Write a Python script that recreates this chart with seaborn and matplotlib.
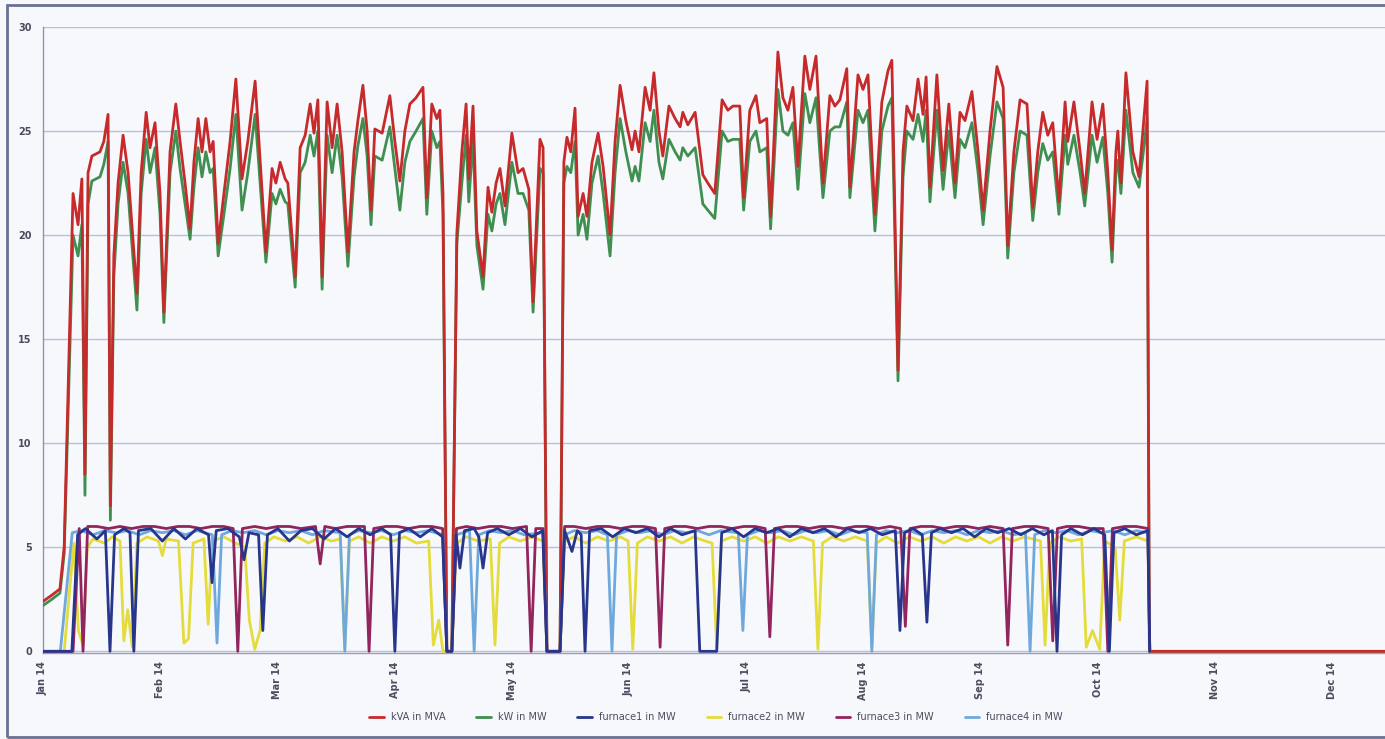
import matplotlib
matplotlib.use("Agg")
import matplotlib.pyplot as plt
import seaborn as sns
import pandas as pd
from matplotlib.patches import Rectangle

# ---------------- data ----------------
month_labels = ["Jan 14", "Feb 14", "Mar 14", "Apr 14", "May 14", "Jun 14",
                "Jul 14", "Aug 14", "Sep 14", "Oct 14", "Nov 14", "Dec 14"]
month_step = 30.44  # days between month ticks (evenly spaced in the chart)
x_end = 348.6

series_names = ["kVA in MVA", "kW in MW", "furnace1 in MW",
                "furnace2 in MW", "furnace3 in MW", "furnace4 in MW"]
series_colors = ["#c62a2a", "#3f8f50", "#27358c", "#e4dc3a", "#92245e", "#6fa9dc"]

kva_days = [0.0, 2.3, 4.4, 5.5, 7.8, 9.1, 10.1, 10.9, 11.7, 12.7, 14.8, 15.8, 16.9, 17.5,
            18.4, 19.5, 20.8, 22.1, 24.4, 25.5, 26.8, 27.8, 29.1, 30.4, 31.4, 33.0, 34.5,
            35.6, 36.9, 38.2, 39.2, 40.3, 41.3, 42.3, 43.4, 44.2, 45.5, 47.0, 48.6, 50.1,
            51.7, 53.2, 55.1, 56.6, 57.9, 59.5, 60.5, 61.6, 62.9, 63.6, 65.5, 66.8, 68.1,
            69.4, 70.4, 71.4, 72.5, 73.8, 75.1, 76.4, 77.7, 79.2, 80.8, 81.8, 83.1, 84.2,
            85.2, 86.2, 88.1, 90.1, 91.4, 92.7, 94.0, 95.3, 96.9, 98.7, 99.7, 101.0, 102.3,
            103.1, 103.9, 104.9, 106.2, 107.5, 108.8, 109.9, 110.6, 111.7, 112.7, 114.3,
            115.6, 116.6, 117.7, 118.7, 120.0, 121.8, 123.4, 124.7, 126.2, 127.3, 129.1,
            129.9, 130.9, 134.3, 135.3, 136.1, 137.1, 138.2, 139.0, 140.3, 141.3, 142.6,
            144.2, 145.5, 147.3, 148.6, 149.9, 151.4, 153.0, 153.8, 154.8, 156.4, 157.7,
            158.7, 160.0, 161.0, 162.6, 164.2, 165.5, 166.2, 167.5, 169.4, 171.4, 172.7,
            174.5, 176.4, 177.9, 179.2, 181.0, 182.0, 183.6, 185.2, 186.2, 188.0, 189.0,
            190.9, 192.2, 193.5, 194.8, 196.1, 197.9, 199.2, 200.8, 202.6, 204.4, 205.7,
            207.0, 208.8, 209.6, 211.7, 213.0, 214.3, 216.1, 217.9, 219.5, 220.5, 222.1,
            223.4, 224.4, 226.0, 227.3, 228.6, 229.4, 230.4, 232.2, 233.8, 235.3, 236.9,
            238.2, 239.5, 241.3, 242.9, 244.2, 246.0, 247.8, 249.4, 250.6, 252.2, 253.8,
            255.6, 257.1, 258.4, 259.7, 261.0, 262.3, 263.9, 265.5, 266.2, 267.8, 269.4,
            270.6, 272.5, 273.8, 275.3, 276.6, 277.7, 278.7, 279.2, 280.0, 281.3, 283.1,
            284.7, 285.7, 286.8, 287.4, 348.6]

kva_values = [2.4, 2.7, 3.0, 5.0, 22.0, 20.5, 22.7, 8.5, 23.0, 23.8, 24.0, 24.5, 25.8, 7.0,
              19.0, 22.5, 24.8, 23.0, 17.2, 23.0, 25.9, 24.2, 25.4, 22.0, 16.3, 24.0, 26.3,
              24.5, 22.5, 20.3, 23.5, 25.6, 24.0, 25.6, 24.0, 24.5, 19.6, 22.0, 24.5, 27.5,
              22.7, 24.5, 27.4, 23.0, 19.2, 23.2, 22.5, 23.5, 22.7, 22.5, 18.0, 24.2, 24.8,
              26.3, 24.9, 26.5, 18.0, 26.4, 24.2, 26.3, 24.0, 19.2, 24.0, 25.5, 27.2, 25.0,
              21.2, 25.1, 24.9, 26.7, 24.5, 22.6, 25.0, 26.3, 26.6, 27.1, 21.8, 26.3, 25.6,
              26.0, 22.0, 0.0, 0.0, 20.1, 24.0, 26.3, 22.7, 26.2, 20.2, 18.0,
              22.3, 21.1, 22.5, 23.2, 21.4, 24.9, 23.0, 23.2, 22.2, 16.8, 24.6,
              24.2, 0.0, 0.0, 23.5, 24.7, 24.0, 26.1, 20.9, 22.0, 20.9, 23.5,
              24.9, 23.3, 20.0, 24.5, 27.2, 25.5, 24.1, 25.0, 24.0, 27.1, 26.0,
              27.8, 25.0, 23.8, 26.2, 25.6, 25.2, 25.9, 25.3, 25.9, 22.9, 22.5,
              22.0, 26.5, 26.0, 26.2, 26.2, 21.8, 26.0, 26.7, 25.4, 25.6, 20.9,
              28.8, 26.6, 26.0, 27.1, 23.3, 28.6, 27.0, 28.6, 22.5, 26.7, 26.2,
              26.5, 28.0, 22.3, 27.7, 27.0, 27.7, 21.0, 26.4, 27.9, 28.4, 13.5,
              24.0, 26.2, 25.5, 27.5, 25.8, 27.6, 22.3, 27.7, 23.1, 26.3, 22.5,
              25.9, 25.5, 26.9, 24.0, 21.2, 25.0, 28.1, 27.1, 19.5, 24.0, 26.5,
              26.3, 21.3, 24.0, 25.9, 24.8, 25.4, 21.6, 26.4, 24.5, 26.4, 24.0,
              22.0, 26.4, 24.6, 26.3, 23.0, 19.3, 24.0, 25.0, 22.5, 27.8, 24.0,
              22.8, 25.0, 27.4, 0.0, 0.0]

kw_values = [2.2, 2.5, 2.8, 4.7, 20.0, 19.0, 20.5, 7.5, 21.5, 22.6, 22.8, 23.4, 24.5, 6.3,
             18.0, 21.5, 23.5, 22.0, 16.4, 22.0, 24.6, 23.0, 24.2, 21.0, 15.8, 23.0, 25.0,
             23.2, 21.5, 19.8, 22.3, 24.2, 22.8, 24.0, 23.0, 23.2, 19.0, 21.0, 23.2, 25.8,
             21.2, 23.0, 25.8, 22.0, 18.7, 22.0, 21.5, 22.2, 21.6, 21.5, 17.5, 23.0, 23.5,
             24.8, 23.8, 25.0, 17.4, 24.8, 23.0, 24.8, 22.8, 18.5, 22.8, 24.3, 25.6, 23.8,
             20.5, 23.8, 23.6, 25.2, 23.2, 21.2, 23.5, 24.5, 25.0, 25.6, 21.0, 25.0, 24.2,
             24.5, 21.0, 0.0, 0.0, 19.6, 22.5, 24.8, 21.6, 24.6, 19.5, 17.4,
             21.0, 20.2, 21.5, 22.0, 20.5, 23.5, 22.0, 22.0, 21.2, 16.3, 23.2,
             23.0, 0.0, 0.0, 22.5, 23.3, 23.0, 24.5, 20.0, 21.0, 19.8, 22.5,
             23.8, 22.0, 19.0, 23.0, 25.6, 24.0, 22.6, 23.3, 22.6, 25.4, 24.5,
             26.0, 23.5, 22.7, 24.6, 24.0, 23.6, 24.2, 23.8, 24.2, 21.5, 21.2,
             20.8, 25.0, 24.5, 24.6, 24.6, 21.2, 24.5, 25.0, 24.0, 24.2, 20.3,
             27.0, 25.0, 24.8, 25.4, 22.2, 26.8, 25.4, 26.6, 21.8, 25.0, 25.2,
             25.2, 26.4, 21.8, 26.0, 25.4, 26.0, 20.2, 25.0, 26.2, 26.6, 13.0,
             22.8, 25.0, 24.6, 25.8, 24.5, 26.0, 21.6, 26.0, 22.2, 25.0, 21.8,
             24.6, 24.2, 25.4, 23.0, 20.5, 23.8, 26.4, 25.6, 18.9, 23.0, 25.0,
             24.8, 20.7, 23.0, 24.4, 23.6, 24.0, 21.0, 24.8, 23.4, 24.8, 23.0,
             21.4, 24.8, 23.5, 24.7, 22.0, 18.7, 23.0, 23.6, 22.0, 26.0, 23.0,
             22.3, 23.8, 25.6, 0.0, 0.0]

furnace1_days = [0, 7.5, 9.0, 11, 14, 16.2, 17.4, 18.6, 21, 22.6, 23.6, 24.8, 28, 31, 34, 37,
                 40, 43, 43.9, 45, 48, 51, 52.2, 53.5, 56, 57.1, 58.3, 61, 64, 67, 70, 73, 76,
                 79, 82, 85, 88, 90.3, 91.4, 92.6, 95, 98, 101, 103.8, 104.9, 106.2, 107.3,
                 108.3, 109.5, 112, 113.2, 114.3, 115.5, 118, 121, 124, 127, 129.8, 130.9,
                 134.3, 135.5, 137.4, 138.8, 139.8, 140.8, 142, 145, 148, 151, 154, 157, 160,
                 163, 166, 169.4, 170.6, 175, 176.3, 179, 182, 185, 188, 191, 194, 197, 200,
                 203, 206, 209, 212, 215, 218, 221.4, 222.6, 223.8, 226, 228.4, 229.6, 230.8,
                 233, 236, 239, 242, 245, 248, 251, 254, 257, 260, 262.2, 263.4, 264.6, 267,
                 270, 273, 275.8, 277, 278.2, 281, 284, 287, 287.5]
furnace1_values = [0, 0, 5.6, 5.9, 5.4, 5.8, 0, 5.6, 5.9, 5.7, 0, 5.8, 5.9, 5.3, 5.9, 5.4,
                   5.9, 5.6, 3.3, 5.8, 5.9, 5.5, 4.4, 5.7, 5.6, 1.0, 5.6, 5.9, 5.3, 5.8, 5.9,
                   5.4, 5.9, 5.5, 5.9, 5.6, 5.9, 5.6, 0, 5.7, 5.9, 5.5, 5.9, 5.5, 0, 0, 5.6,
                   4.0, 5.8, 5.9, 5.5, 4.0, 5.7, 5.9, 5.6, 5.9, 5.5, 5.8, 0,
                   0, 5.8, 4.8, 5.8, 5.6, 0, 5.8, 5.9, 5.5, 5.9, 5.7, 5.9, 5.5,
                   5.9, 5.6, 5.8, 0, 0, 5.7, 5.9, 5.5, 5.9, 5.7, 5.9, 5.5, 5.9, 5.7,
                   5.9, 5.5, 5.9, 5.7, 5.9, 5.6, 5.8, 1.0, 5.7, 5.9, 5.6, 1.4, 5.7,
                   5.9, 5.7, 5.9, 5.5, 5.9, 5.7, 5.9, 5.6, 5.9, 5.6, 5.8, 0, 5.6, 5.9,
                   5.6, 5.9, 5.6, 0, 5.7, 5.9, 5.6, 5.8, 0]

furnace2_days = [0, 5.5, 8.0, 9.2, 10.4, 11.5, 13, 16, 18, 20.0, 21.0, 22.0, 23.2, 24.4, 27,
                 30, 31.0, 32, 35.2, 36.6, 37.8, 39.0, 41.8, 42.9, 44.0, 47, 50, 52.4, 53.6,
                 55.0, 56.4, 57.6, 60, 63, 66, 69, 72, 75, 77.2, 78.4, 79.6, 82, 85, 88, 91,
                 94, 97, 100.2, 101.4, 102.8, 103.9, 104.9, 106.2, 107.4, 110, 113, 116.2,
                 117.4, 118.6, 121, 124, 127, 129.9, 130.9, 134.3, 135.5, 138, 141, 144, 147,
                 150, 152.0, 153.2, 154.4, 157, 160, 163, 166, 169, 172, 173.8, 175.0, 176.2,
                 179, 182, 185, 188, 191, 194, 197, 200.1, 201.3, 202.5, 205, 208, 211, 214.1,
                 215.3, 216.5, 219, 222, 225, 228, 231, 234, 237, 240, 243, 246, 249, 252, 255,
                 259.1, 260.3, 261.5, 264, 267, 269.8, 271.0, 272.6, 274.5, 275.8, 278.5,
                 279.7, 280.9, 284, 287, 287.5]
furnace2_values = [0, 0, 5.2, 1.0, 0.3, 5.0, 5.4, 5.2, 5.5, 5.3, 0.5, 2.0, 0.2, 5.2, 5.5,
                   5.3, 4.6, 5.4, 5.3, 0.4, 0.6, 5.2, 5.4, 1.3, 5.3, 5.5, 5.2, 5.0, 1.5,
                   0.1, 1.0, 5.2, 5.5, 5.3, 5.5, 5.2, 5.5, 5.3, 5.4, 0.2, 5.3, 5.5, 5.2, 5.5, 5.3,
                   5.5, 5.2, 5.3, 0.3, 1.5, 0.0, 0, 0, 5.2, 5.5, 5.3, 5.4,
                   0.3, 5.2, 5.5, 5.3, 5.5, 5.3, 0, 0, 5.3, 5.5, 5.2, 5.5, 5.3,
                   5.5, 5.3, 0.1, 5.2, 5.5, 5.3, 5.5, 5.2, 5.5, 5.3, 5.2, 0.2, 5.3,
                   5.5, 5.3, 5.5, 5.2, 5.5, 5.3, 5.5, 5.3, 0.1, 5.2, 5.5, 5.3, 5.5, 5.3,
                   0.2, 5.2, 5.5, 5.2, 5.5, 5.3, 5.5, 5.2, 5.5, 5.3, 5.5, 5.2, 5.5, 5.3, 5.5,
                   5.3, 0.3, 5.2, 5.5, 5.3, 5.4, 0.2, 1.0, 0.1, 5.3, 5.0,
                   1.5, 5.3, 5.5, 5.3, 0]

furnace3_days = [0, 7.8, 9.4, 10.4, 11.6, 14, 17, 20, 23, 26, 29, 32, 35, 38, 41, 44, 47,
                 49.4, 50.6, 51.8, 55, 58, 61, 64, 67, 70.8, 72.0, 73.2, 76, 79, 83.5, 84.7,
                 85.9, 89, 92, 95, 98, 101, 103.8, 104.9, 106.2, 107.4, 110, 113, 116, 119, 122,
                 125.6, 126.8, 128.0, 129.9, 130.9, 134.3, 135.5, 138, 141, 144, 147, 150, 153,
                 156, 159.1, 160.3, 161.5, 164, 167, 170, 173, 176, 179, 182, 185, 187.6, 188.8,
                 190.0, 193, 196, 199, 202, 205, 208, 211, 214, 217, 220, 222.8, 224.0, 225.2,
                 228, 231, 234, 237, 240, 243, 246, 249.4, 250.6, 251.8, 255, 258, 261.1, 262.3,
                 263.5, 266, 269, 272, 275.4, 276.6, 277.8, 281, 284, 287, 287.5]
furnace3_values = [0, 0, 5.9, 0.0, 6.0, 6.0, 5.9, 6.0, 5.9, 6.0, 6.0, 5.9, 6.0, 6.0, 5.9, 6.0,
                   6.0, 5.9, 0.0, 5.9, 6.0, 5.9, 6.0, 6.0, 5.9, 6.0, 4.2, 6.0, 5.9, 6.0, 6.0,
                   0.0, 5.9, 6.0, 6.0, 5.9, 6.0, 6.0, 5.9, 0, 0, 5.9, 6.0, 5.9, 6.0, 6.0, 5.9,
                   6.0, 0.0, 5.9, 5.9, 0, 0, 6.0, 6.0, 5.9, 6.0, 6.0, 5.9, 6.0,
                   6.0, 5.9, 0.2, 5.9, 6.0, 6.0, 5.9, 6.0, 6.0, 5.9, 6.0, 6.0, 5.9, 0.7,
                   5.9, 6.0, 6.0, 5.9, 6.0, 6.0, 5.9, 6.0, 6.0, 5.9, 6.0, 5.9, 1.2, 5.9,
                   6.0, 6.0, 5.9, 6.0, 6.0, 5.9, 6.0, 5.9, 0.3, 5.9, 6.0, 6.0, 5.9, 0.5,
                   5.9, 6.0, 6.0, 5.9, 5.9, 0.0, 5.9, 6.0, 6.0, 5.9, 0]

furnace4_days = [0, 4.5, 7.6, 10, 13, 16, 19, 22, 25, 28, 31, 34, 37, 40, 44.0, 45.2, 46.4,
                 49, 52, 55, 58, 61, 64, 67, 70, 73, 77.2, 78.4, 79.6, 82, 85, 88, 91, 94, 97,
                 100, 103.8, 104.9, 106.2, 107.4, 110.8, 112.0, 113.2, 116, 119, 122, 125,
                 129.9, 130.9, 134.3, 135.5, 138, 141, 144, 146.6, 147.8, 149.0, 152, 155, 158,
                 161, 164, 167, 170, 173, 176, 180.6, 181.8, 183.0, 186, 189, 192, 195, 198,
                 201, 204, 207, 210, 214.1, 215.3, 216.5, 219, 222, 225, 228, 231, 234, 237,
                 240, 243, 246, 249, 252, 255.2, 256.4, 257.6, 260, 263, 266, 269, 272, 275,
                 278, 281, 284, 287, 287.5]
furnace4_values = [0, 0, 5.7, 5.8, 5.6, 5.8, 5.7, 5.8, 5.6, 5.8, 5.7, 5.8, 5.6, 5.8, 5.6, 0.4,
                   5.6, 5.8, 5.7, 5.8, 5.6, 5.8, 5.7, 5.8, 5.6, 5.8, 5.7, 0.0, 5.6, 5.8, 5.7,
                   5.8, 5.6, 5.8, 5.7, 5.8, 5.6, 0, 0, 5.6, 5.8, 0.0, 5.6, 5.8, 5.7, 5.8,
                   5.6, 5.7, 0, 0, 5.6, 5.8, 5.7, 5.8, 5.6, 0.0, 5.6, 5.8, 5.7, 5.8, 5.6,
                   5.8, 5.7, 5.8, 5.6, 5.8, 5.7, 1.0, 5.6, 5.8, 5.7, 5.8, 5.6, 5.8, 5.7,
                   5.8, 5.6, 5.8, 5.7, 0.0, 5.6, 5.8, 5.7, 5.8, 5.6, 5.8, 5.7, 5.8, 5.6,
                   5.8, 5.7, 5.8, 5.6, 5.7, 0.0, 5.6, 5.8, 5.7, 5.8, 5.6, 5.8, 5.7, 5.8,
                   5.6, 5.8, 5.7, 0]

# ---------------- styling ----------------
W, H = 1385, 739
bg = "#f7f8fc"
sns.set_theme(style="white")
plt.rcParams["font.family"] = ["DejaVu Sans"]

fig = plt.figure(figsize=(W / 100, H / 100), dpi=100, facecolor=bg)
ax = fig.add_axes([43 / W, 1 - 653 / H, 1 - 43 / W, (653 - 27) / H])
ax.set_facecolor(bg)

series = [
    (kva_days, kva_values, 4),
    (kva_days, kw_values, 3),
    (furnace1_days, furnace1_values, 8),
    (furnace2_days, furnace2_values, 5),
    (furnace3_days, furnace3_values, 7),
    (furnace4_days, furnace4_values, 6),
]
for (d, v, z), name, col in zip(series, series_names, series_colors):
    df = pd.DataFrame({"day": d, "value": v})
    sns.lineplot(data=df, x="day", y="value", ax=ax, color=col, linewidth=2.0,
                 label=name, estimator=None, zorder=z)

ax.set_xlim(0, x_end)
ax.set_ylim(-0.08, 30)
ax.set_yticks(range(0, 31, 5))
ax.set_yticklabels([str(v) for v in range(0, 31, 5)], fontsize=7, color="#4a4d5e",
                   fontweight="bold")
ax.set_xticks([i * month_step for i in range(len(month_labels))])
ax.set_xticklabels(month_labels, rotation=90, fontsize=7, color="#4a4d5e",
                   fontweight="bold")
ax.tick_params(axis="both", length=0)
ax.tick_params(axis="x", pad=6)
ax.tick_params(axis="y", pad=8)
ax.set_xlabel("")
ax.set_ylabel("")
ax.grid(axis="y", color="#b9c0da", linewidth=1.0, zorder=0)
ax.grid(axis="x", visible=False)
for s in ["top", "right"]:
    ax.spines[s].set_visible(False)
ax.spines["left"].set_color("#8c93b8")
ax.spines["left"].set_linestyle((0, (2, 1)))
ax.spines["left"].set_linewidth(1.0)
ax.spines["bottom"].set_color("#9c9fb0")
ax.spines["bottom"].set_linewidth(1.0)

handles, labels = ax.get_legend_handles_labels()
ax.get_legend().remove()
fig.legend(handles, labels, loc="center", bbox_to_anchor=(0.517, 1 - 717 / H), ncol=6,
           frameon=False, fontsize=7, handlelength=1.5, handletextpad=0.7,
           columnspacing=3.2, labelcolor="#4a4d5e")

# outer frame
fig.patches.append(Rectangle((7 / W, 2 / H), 1.2, 1 - 7 / H, transform=fig.transFigure,
                             fill=False, edgecolor="#6b7192", linewidth=2.0))

fig.savefig("out.png", dpi=100, facecolor=bg)
